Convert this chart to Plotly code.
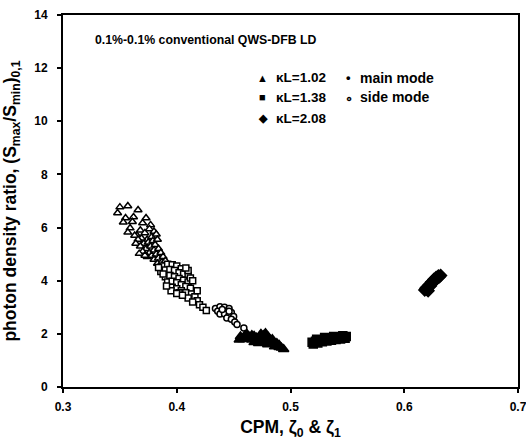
import plotly.graph_objects as go

# ---- data ----
tri_side_x = [0.350, 0.357, 0.366, 0.348, 0.355, 0.362, 0.353, 0.361, 0.359, 0.373, 0.370, 0.377, 0.368,
              0.365, 0.372, 0.376, 0.380, 0.374, 0.378, 0.382, 0.371, 0.375, 0.379, 0.383, 0.373, 0.377,
              0.381, 0.369, 0.376, 0.380, 0.384, 0.374, 0.378, 0.382, 0.386, 0.380, 0.384, 0.388, 0.383,
              0.387, 0.390, 0.357, 0.363, 0.366, 0.364, 0.368, 0.370, 0.367, 0.372]
tri_side_y = [6.77, 6.81, 6.66, 6.55, 6.36, 6.40, 6.20, 6.22, 5.98, 6.36, 6.17, 6.10, 5.90,
              5.70, 5.80, 5.95, 5.85, 5.55, 5.65, 5.75, 5.40, 5.45, 5.50, 5.55, 5.20, 5.30,
              5.35, 5.60, 5.05, 5.15, 5.20, 4.90, 4.95, 5.00, 5.05, 4.80, 4.85, 4.90, 4.65,
              4.70, 4.75, 5.82, 5.70, 5.55, 5.40, 5.30, 5.10, 5.02, 4.95]

sq_side_x = [0.388, 0.392, 0.396, 0.400, 0.404, 0.386, 0.390, 0.394, 0.398, 0.402, 0.406, 0.410, 0.390,
             0.394, 0.398, 0.402, 0.406, 0.410, 0.392, 0.396, 0.400, 0.404, 0.408, 0.412, 0.396, 0.400,
             0.404, 0.408, 0.413, 0.416, 0.402, 0.410, 0.418, 0.420, 0.423, 0.426, 0.414, 0.384, 0.388,
             0.412, 0.395, 0.400, 0.410, 0.414, 0.418, 0.405, 0.408, 0.391]
sq_side_y = [4.55, 4.62, 4.60, 4.55, 4.45, 4.35, 4.40, 4.42, 4.38, 4.30, 4.25, 4.20, 4.15,
             4.20, 4.15, 4.08, 4.02, 3.95, 3.95, 3.98, 3.92, 3.85, 3.78, 3.72, 3.75, 3.70,
             3.62, 3.55, 3.50, 3.40, 3.55, 3.35, 3.25, 3.10, 3.00, 2.88, 3.20, 4.50, 4.25,
             4.10, 3.62, 3.52, 4.38, 4.00, 3.62, 3.45, 4.48, 3.80]

circ_side_x = [0.434, 0.438, 0.442, 0.446, 0.436, 0.440, 0.444, 0.448, 0.438, 0.442, 0.446, 0.450,
               0.444, 0.448, 0.451, 0.453, 0.440, 0.446, 0.459]
circ_side_y = [2.95, 3.02, 3.00, 2.95, 2.85, 2.88, 2.85, 2.80, 2.75, 2.75, 2.70, 2.65,
               2.60, 2.55, 2.45, 2.35, 2.92, 2.85, 2.22]

tri_main_x = [0.456, 0.460, 0.464, 0.468, 0.472, 0.476, 0.478, 0.474, 0.480, 0.484, 0.458, 0.462,
              0.466, 0.470, 0.474, 0.478, 0.482, 0.486, 0.488, 0.490, 0.492, 0.494, 0.470, 0.466,
              0.480, 0.484, 0.488, 0.476, 0.462, 0.490, 0.455, 0.468, 0.472, 0.480, 0.486]
tri_main_y = [1.90, 1.95, 1.88, 1.92, 1.85, 1.95, 2.02, 2.00, 1.90, 1.80, 1.80, 1.82,
              1.78, 1.75, 1.72, 1.70, 1.65, 1.62, 1.55, 1.50, 1.48, 1.42, 1.85, 1.95,
              1.78, 1.70, 1.65, 1.80, 1.98, 1.58, 1.78, 1.68, 1.65, 1.60, 1.52]

sq_main_x = [0.519, 0.522, 0.525, 0.528, 0.531, 0.534, 0.537, 0.540, 0.543, 0.546, 0.549, 0.520,
             0.524, 0.528, 0.532, 0.536, 0.540, 0.544, 0.548, 0.523, 0.530, 0.538, 0.546]
sq_main_y = [1.68, 1.72, 1.75, 1.78, 1.80, 1.83, 1.85, 1.87, 1.88, 1.89, 1.90, 1.62,
             1.66, 1.70, 1.73, 1.76, 1.79, 1.81, 1.83, 1.80, 1.86, 1.90, 1.93]

dia_main_x = [0.618, 0.620, 0.622, 0.624, 0.626, 0.628, 0.630, 0.632, 0.620, 0.623, 0.625, 0.627,
              0.629, 0.631, 0.619, 0.621]
dia_main_y = [3.65, 3.75, 3.85, 3.95, 4.05, 4.12, 4.18, 4.20, 3.68, 3.80, 3.92, 4.00,
              4.10, 4.15, 3.72, 3.62]

x_ticks = [0.3, 0.4, 0.5, 0.6, 0.7]
y_ticks = [0, 2, 4, 6, 8, 10, 12, 14]

FONT = "Liberation Sans, Arial, sans-serif"

fig = go.Figure()

def add(x, y, symbol, size, filled):
    fig.add_trace(go.Scatter(
        x=x, y=y, mode="markers", showlegend=False, cliponaxis=False,
        marker=dict(symbol=symbol, size=size,
                    color="black" if filled else "white",
                    line=dict(color="black", width=1.5))))

add(tri_side_x, tri_side_y, "triangle-up", 7, False)
add(sq_side_x, sq_side_y, "square", 6, False)
add(circ_side_x, circ_side_y, "circle", 6, False)
add(tri_main_x, tri_main_y, "triangle-up", 9, True)
add(sq_main_x, sq_main_y, "square", 8, True)
add(dia_main_x, dia_main_y, "diamond", 9, True)

def bold(size):
    return dict(family=FONT, size=size, color="black", weight="bold")

annotations = [
    dict(x=0.3265, y=13.05, text="0.1%-0.1% conventional QWS-DFB LD", xanchor="left", font=bold(12.3)),
    dict(x=0.4758, y=11.63, text="▲", xanchor="center", font=bold(11)),
    dict(x=0.4758, y=10.90, text="■", xanchor="center", font=bold(11)),
    dict(x=0.4758, y=10.12, text="◆", xanchor="center", font=bold(11)),
    dict(x=0.4855, y=11.63, text="κL=1.02", xanchor="left", font=bold(13.5)),
    dict(x=0.4855, y=10.90, text="κL=1.38", xanchor="left", font=bold(13.5)),
    dict(x=0.4855, y=10.12, text="κL=2.08", xanchor="left", font=bold(13.5)),
    dict(x=0.5510, y=11.63, text="•", xanchor="center", font=bold(13)),
    dict(x=0.5510, y=10.90, text="∘", xanchor="center", font=bold(13)),
    dict(x=0.5590, y=11.63, text="main mode", xanchor="left", font=bold(14)),
    dict(x=0.5590, y=10.90, text="side mode", xanchor="left", font=bold(14)),
]
for a in annotations:
    a.update(xref="x", yref="y", showarrow=False, yanchor="middle")

axis_common = dict(showgrid=False, zeroline=False, showline=True, linecolor="black", linewidth=2,
                   mirror=True, ticks="outside", ticklen=4, tickwidth=1.5, tickcolor="black",
                   automargin=False, ticklabeloverflow="allow", tickfont=bold(12))

fig.update_layout(
    width=526, height=440,
    margin=dict(l=63, r=8, t=15, b=53),
    paper_bgcolor="white", plot_bgcolor="white",
    annotations=annotations,
    xaxis=dict(range=[0.3, 0.7], tickvals=x_ticks, ticktext=["0.3", "0.4", "0.5", "0.6", "0.7"],
               ticklabelstandoff=4,
               title=dict(text="CPM, ζ<sub>0</sub> & ζ<sub>1</sub>", font=bold(17.5)),
               **axis_common),
    yaxis=dict(range=[0, 14], tickvals=y_ticks, ticklabelstandoff=7,
               title=dict(text="photon density ratio, (S<sub>max</sub>/S<sub>min</sub>)<sub>0,1</sub>",
                          font=bold(17.5)),
               **axis_common),
)

fig.write_html("out.html", config={"displayModeBar": False},
               post_script="document.body.style.margin='0';document.body.style.overflow='hidden';")
